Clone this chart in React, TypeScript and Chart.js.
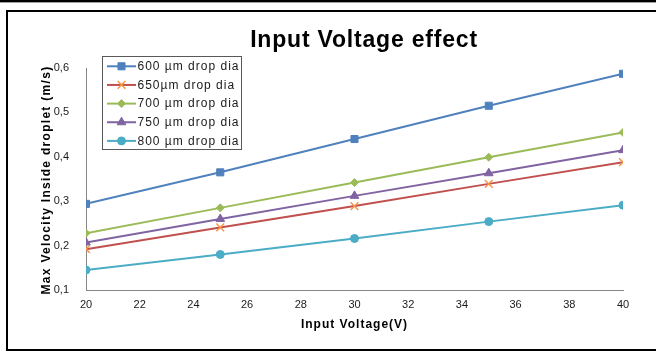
import React, { useEffect, useRef } from 'react';
import { Chart, registerables } from 'chart.js';
import { drawPoint } from 'chart.js/helpers';

Chart.register(...registerables);

// ---- data ----
const chartTitle = 'Input Voltage effect';
const xAxisTitle = 'Input Voltage(V)';
const yAxisTitle = 'Max Velocity Inside droplet (m/s)';
const voltages = [20, 25, 30, 35, 40];
const seriesLabels = ['600 µm drop dia', '650µm drop dia', '700 µm drop dia', '750 µm drop dia', '800 µm drop dia'];
const v600 = [0.294, 0.365, 0.44, 0.515, 0.587];
const v650 = [0.192, 0.241, 0.289, 0.339, 0.388];
const v700 = [0.228, 0.285, 0.342, 0.399, 0.455];
const v750 = [0.207, 0.26, 0.312, 0.363, 0.415];
const v800 = [0.145, 0.18, 0.216, 0.254, 0.291];
const xTickValues = [20, 22, 24, 26, 28, 30, 32, 34, 36, 38, 40];
const yTickLabels = ['0,1', '0,2', '0,3', '0,4', '0,5', '0,6'];

// ---- styles ----
const seriesValues = [v600, v650, v700, v750, v800];
const lineColors = ['#4F81BD', '#C0504D', '#9BBB59', '#8064A2', '#4BACC6'];
const markerColors = ['#4F81BD', '#F79646', '#9BBB59', '#8064A2', '#4BACC6'];
const markerStyles = ['rect', 'crossRot', 'rectRot', 'triangle', 'circle'];
const markerRadius = [5, 5.5, 4, 5, 4];
const markerBorder = [1, 1.5, 1, 1, 1];
const FONT = '"Liberation Sans", Arial, sans-serif';

const decorPlugin = {
  id: 'decor',
  beforeDraw(chart: any) {
    const ctx = chart.ctx;
    ctx.save();
    ctx.fillStyle = '#ffffff';
    ctx.fillRect(0, 0, chart.width, chart.height);
    ctx.fillStyle = '#000000';
    ctx.fillRect(0, 0, chart.width, 2);
    ctx.fillStyle = '#a0a0a0';
    ctx.fillRect(0, 2, chart.width, 1);
    ctx.fillStyle = '#000000';
    ctx.fillRect(6, 10, chart.width - 6, 2);
    ctx.fillRect(6, 10, 2, 341);
    ctx.fillRect(6, 349, chart.width - 6, 2);
    ctx.restore();
  },
  afterDraw(chart: any) {
    const ctx = chart.ctx;
    const area = chart.chartArea;
    // chart title
    ctx.save();
    ctx.fillStyle = '#000000';
    ctx.font = 'bold 23px ' + FONT;
    (ctx as any).letterSpacing = '0.8px';
    ctx.textAlign = 'center';
    ctx.textBaseline = 'alphabetic';
    ctx.fillText(chartTitle, 364, 47);
    ctx.restore();

    // axis titles
    ctx.save();
    ctx.fillStyle = '#000000';
    ctx.font = 'bold 12px ' + FONT;
    (ctx as any).letterSpacing = '1px';
    ctx.textAlign = 'center';
    ctx.textBaseline = 'middle';
    ctx.fillText(xAxisTitle, (area.left + area.right) / 2, 325);
    (ctx as any).letterSpacing = '1.3px';
    ctx.translate(47, (area.top + area.bottom) / 2 + 1);
    ctx.rotate(-Math.PI / 2);
    ctx.fillText(yAxisTitle, 0, 0);
    ctx.restore();

    // legend
    ctx.save();
    const bx = 102.5, by = 56.5, bw = 139, bh = 93;
    ctx.fillStyle = '#ffffff';
    ctx.fillRect(bx, by, bw, bh);
    ctx.strokeStyle = '#595959';
    ctx.lineWidth = 1;
    ctx.strokeRect(bx, by, bw, bh);
    chart.data.datasets.forEach((ds: any, i: number) => {
      const y = 66.3 + i * 18.65;
      ctx.strokeStyle = ds.borderColor;
      ctx.lineWidth = 2;
      ctx.beginPath();
      ctx.moveTo(107, y);
      ctx.lineTo(136, y);
      ctx.stroke();
      ctx.fillStyle = ds.pointBackgroundColor;
      ctx.strokeStyle = ds.pointBorderColor;
      ctx.lineWidth = ds.pointBorderWidth;
      drawPoint(ctx, { pointStyle: ds.pointStyle, rotation: 0, radius: ds.pointRadius, borderWidth: ds.pointBorderWidth }, 121.5, y);
      ctx.fillStyle = '#1a1a1a';
      ctx.font = '12px ' + FONT;
      (ctx as any).letterSpacing = '1px';
      ctx.textAlign = 'left';
      ctx.textBaseline = 'middle';
      ctx.fillText(ds.label, 137.5, y + 0.5);
      (ctx as any).letterSpacing = '0px';
    });
    ctx.restore();
  },
};

export default function App() {
  const ref = useRef<HTMLCanvasElement | null>(null);
  useEffect(() => {
    if (!ref.current) return;
    const datasets = seriesValues.map((vals, i) => ({
      label: seriesLabels[i],
      data: vals.map((v, j) => ({ x: voltages[j], y: v })),
      borderColor: lineColors[i],
      backgroundColor: lineColors[i],
      borderWidth: 2,
      tension: 0,
      pointStyle: markerStyles[i],
      pointRadius: markerRadius[i],
      pointBackgroundColor: markerColors[i],
      pointBorderColor: markerColors[i],
      pointBorderWidth: markerBorder[i],
      fill: false,
    }));
    const chart = new Chart(ref.current, {
      type: 'line',
      data: { datasets },
      plugins: [decorPlugin],
      options: {
        animation: false,
        responsive: false,
        devicePixelRatio: 1,
        layout: { padding: { left: 0, right: 33, top: 68, bottom: 0 } },
        plugins: { legend: { display: false }, tooltip: { enabled: false }, title: { display: false } },
        scales: {
          x: {
            type: 'linear',
            min: 20,
            max: 40,
            afterFit: (s: any) => { s.height = 64; },
            afterBuildTicks: (s: any) => { s.ticks = xTickValues.map((v) => ({ value: v })); },
            grid: { display: false, drawTicks: false },
            border: { display: true, color: '#868686', width: 1 },
            ticks: {
              padding: 8,
              color: '#1a1a1a',
              font: { family: FONT, size: 11 },
              maxRotation: 0,
              autoSkip: false,
              callback: (v: any) => String(v),
            },
          },
          y: {
            type: 'linear',
            min: 0.1,
            max: 0.6,
            afterFit: (s: any) => { s.width = 86; },
            grid: { display: false, drawTicks: false },
            border: { display: true, color: '#868686', width: 1 },
            ticks: {
              stepSize: 0.1,
              padding: 17,
              color: '#1a1a1a',
              font: { family: FONT, size: 11 },
              callback: (_v: any, i: number) => yTickLabels[i],
            },
          },
        },
      },
    } as any);
    return () => chart.destroy();
  }, []);
  return (
    <div style={{ position: 'absolute', left: 0, top: 0, width: 656, height: 354, background: '#fff' }}>
      <canvas ref={ref} width={656} height={354} style={{ display: 'block' }} />
    </div>
  );
}
